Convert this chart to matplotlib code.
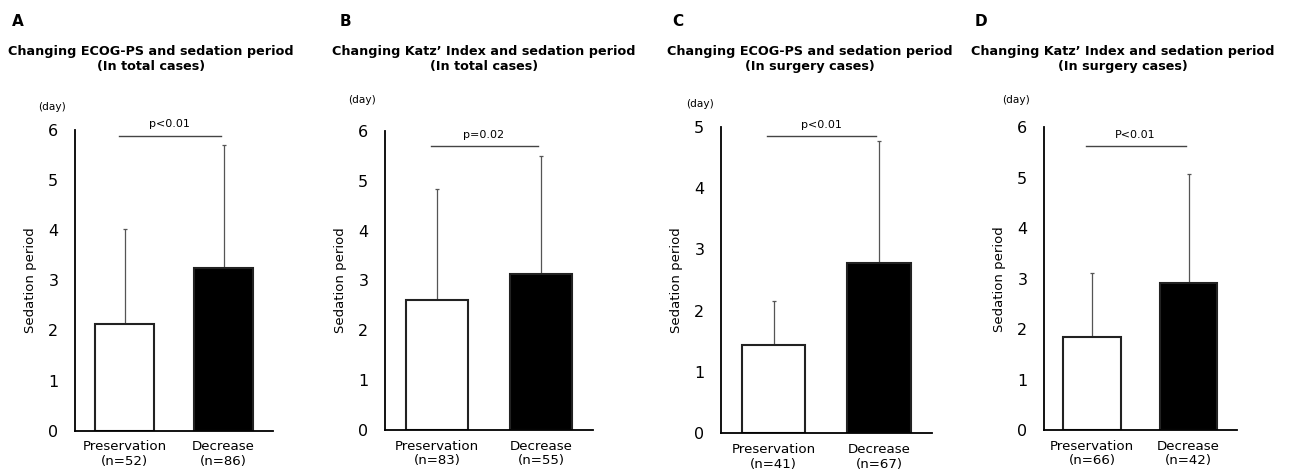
import matplotlib.pyplot as plt

# data
letters = ['A', 'B', 'C', 'D']
titles = ['Changing ECOG-PS and sedation period\n(In total cases)',
          'Changing Katz\u2019 Index and sedation period\n(In total cases)',
          'Changing ECOG-PS and sedation period\n(In surgery cases)',
          'Changing Katz\u2019 Index and sedation period\n(In surgery cases)']
n_pres = [52, 83, 41, 66]
n_dec = [86, 55, 67, 42]
mean_pres = [2.13, 2.61, 1.44, 1.85]
mean_dec = [3.25, 3.13, 2.77, 2.91]
sd_pres = [1.90, 2.23, 0.71, 1.27]
sd_dec = [2.45, 2.36, 1.99, 2.17]
p_text = ['p<0.01', 'p=0.02', 'p<0.01', 'P<0.01']
p_level = [5.89, 5.70, 4.85, 5.63]
y_max = [6, 6, 5, 6]

W, H = 1292, 475
# axes boxes in pixels: left, right, y of zero, y of top
boxes = [(75, 273, 430.7, 130), (385, 593, 430, 131),
         (721, 931.7, 433.3, 126.7), (1044, 1236.7, 430, 127.3)]
title_cx = [151, 484, 810, 1123]
letter_x = [12, 340, 672, 975]
day_x = [52, 362, 700, 1016]
day_y = [107, 100, 104, 100]

fig = plt.figure(figsize=(W / 100, H / 100), dpi=100)

for i in range(4):
    l, r, y0, yt = boxes[i]
    ax = fig.add_axes([l / W, (H - y0) / H, (r - l) / W, (y0 - yt) / H])
    vals = [mean_pres[i], mean_dec[i]]
    errs = [sd_pres[i], sd_dec[i]]
    ax.errorbar([0, 1], vals, yerr=[[0, 0], errs], fmt='none', ecolor='#555555',
                elinewidth=0.9, capsize=1.5, capthick=0.9, zorder=1)
    ax.bar([0, 1], vals, width=0.6, color=['white', 'black'], edgecolor='#222222',
           linewidth=1.5, zorder=2)
    ax.set_xlim(-0.5, 1.5)
    ax.set_ylim(0, y_max[i])
    ax.set_yticks(range(y_max[i] + 1))
    ax.set_xticks([0, 1])
    ax.set_xticklabels(['Preservation\n(n=%d)' % n_pres[i], 'Decrease\n(n=%d)' % n_dec[i]],
                       fontsize=9.6, linespacing=1.15)
    ax.tick_params(axis='both', length=0)
    ax.tick_params(axis='y', labelsize=11.5, pad=12)
    ax.tick_params(axis='x', pad=7)
    for s in ['top', 'right']:
        ax.spines[s].set_visible(False)
    ax.spines['left'].set_linewidth(1.3)
    ax.spines['bottom'].set_linewidth(1.3)
    ax.set_ylabel('Sedation period', fontsize=9.5, labelpad=8)
    ax.plot([-0.06, 0.97], [p_level[i], p_level[i]], color='#444444', lw=1.0, clip_on=False)
    ax.text(0.45, p_level[i] + 0.12 * y_max[i] / 6, p_text[i], ha='center', va='bottom',
            fontsize=8, clip_on=False)

    fig.text(letter_x[i] / W, 1 - 21 / H, letters[i], fontsize=11, fontweight='bold',
             ha='left', va='center')
    fig.text(title_cx[i] / W, 1 - 59 / H, titles[i], fontsize=9.2, fontweight='bold',
             ha='center', va='center', linespacing=1.2)
    fig.text(day_x[i] / W, 1 - day_y[i] / H, '(day)', fontsize=7.6, ha='center', va='center')

fig.savefig('out.png', dpi=100)
